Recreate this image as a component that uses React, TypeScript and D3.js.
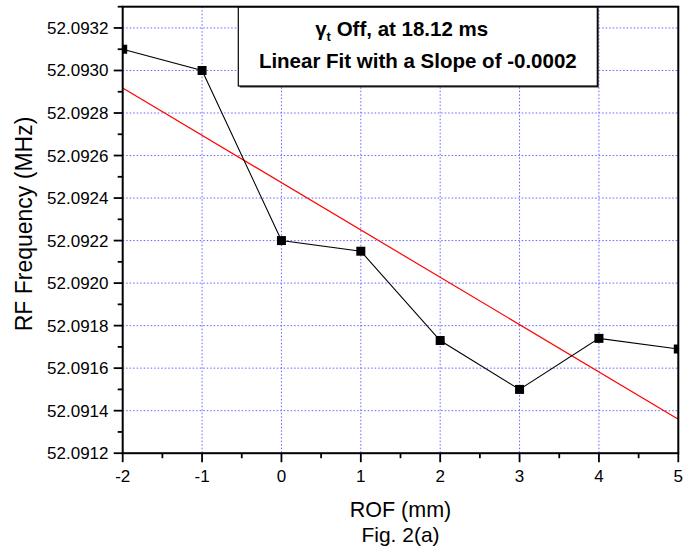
import React from "react";
import * as d3 from "d3";

const rofValues: number[] = [-2, -1, 0, 1, 2, 3, 4, 5];
const rfFrequency: number[] = [52.0931, 52.093, 52.0922, 52.09215, 52.09173, 52.0915, 52.09174, 52.09169];
const xTicks: number[] = [-2, -1, 0, 1, 2, 3, 4, 5];
const yTicks: number[] = [52.0912, 52.0914, 52.0916, 52.0918, 52.092, 52.0922, 52.0924, 52.0926, 52.0928, 52.093, 52.0932];
const annotationLine1 = "Off, at 18.12 ms";
const annotationLine2 = "Linear Fit with a Slope of -0.0002";

const W = 686;
const H = 557;
const L = 122.7, R = 678.3, T = 6.7, B = 453.2;
const FONT = "'Liberation Sans', Arial, Helvetica, sans-serif";

export default function App() {
  const x = d3.scaleLinear().domain([-2, 5]).range([L, R]);
  const y = d3.scaleLinear().domain([52.0912, 52.0933]).range([B, T]);
  const fmt = d3.format(".4f");

  // linear regression
  const n = rofValues.length;
  const mx = d3.mean(rofValues)!;
  const my = d3.mean(rfFrequency)!;
  let sxy = 0, sxx = 0;
  for (let i = 0; i < n; i++) {
    sxy += (rofValues[i] - mx) * (rfFrequency[i] - my);
    sxx += (rofValues[i] - mx) ** 2;
  }
  const slope = sxy / sxx;
  const icpt = my - slope * mx;
  const fitX = [-2, 5];
  const fitLine = d3.line<number>().x((d) => x(d)).y((d) => y(icpt + slope * d))(fitX)!;

  const dataLine = d3
    .line<number>()
    .x((_, i) => x(rofValues[i]))
    .y((d) => y(d))(rfFrequency)!;

  const xMinor: number[] = [];
  for (let i = 0; i < xTicks.length - 1; i++) xMinor.push((xTicks[i] + xTicks[i + 1]) / 2);
  const yMinor: number[] = [];
  for (let i = 0; i < yTicks.length - 1; i++) yMinor.push((yTicks[i] + yTicks[i + 1]) / 2);
  yMinor.push(52.0933);

  const gridColor = "#4a4aff";
  const boxL = 238.3, boxR = 597.3, boxT = T, boxB = 86;
  const boxC = (boxL + boxR) / 2;

  return (
    <svg width={W} height={H} style={{ position: "absolute", left: 0, top: 0 }} fontFamily={FONT}>
      <rect x={0} y={0} width={W} height={H} fill="#fff" />
      <defs>
        <clipPath id="plotClip">
          <rect x={L} y={T} width={R - L} height={B - T} />
        </clipPath>
      </defs>
      {/* grid */}
      <g stroke={gridColor} strokeWidth={1} strokeDasharray="1.5,2" opacity={0.85}>
        {xTicks.slice(1, -1).map((t) => (
          <line key={"gx" + t} x1={x(t)} x2={x(t)} y1={T} y2={B} />
        ))}
        {yTicks.slice(1).map((t) => (
          <line key={"gy" + t} x1={L} x2={R} y1={y(t)} y2={y(t)} />
        ))}
      </g>
      {/* data */}
      <g clipPath="url(#plotClip)">
        <path d={fitLine} fill="none" stroke="#ff0000" strokeWidth={1.2} />
        <path d={dataLine} fill="none" stroke="#000" strokeWidth={1.1} />
        {rfFrequency.map((v, i) => (
          <rect key={"p" + i} x={x(rofValues[i]) - 4.5} y={y(v) - 4.5} width={9} height={9} fill="#000" />
        ))}
      </g>
      {/* annotation box */}
      <rect x={boxL + 1.5} y={boxT + 1.5} width={boxR - boxL} height={boxB - boxT} fill="#333" />
      <rect x={boxL} y={boxT} width={boxR - boxL} height={boxB - boxT} fill="#fff" stroke="#000" strokeWidth={1.2} />
      <text x={401.7} y={36} textAnchor="middle" fontWeight="bold" fontSize={20.5}>
        <tspan>γ</tspan>
        <tspan fontSize={13} dy={5}>t</tspan>
        <tspan dy={-5}> {annotationLine1}</tspan>
      </text>
      <text x={boxC} y={68.3} textAnchor="middle" fontWeight="bold" fontSize={20.5}>
        {annotationLine2}
      </text>
      {/* frame */}
      <rect x={L} y={T} width={R - L} height={B - T} fill="none" stroke="#000" strokeWidth={2} />
      {/* ticks */}
      <g stroke="#000" strokeWidth={1.8}>
        {yTicks.map((t) => (
          <line key={"yt" + t} x1={L - 9} x2={L} y1={y(t)} y2={y(t)} />
        ))}
        {yMinor.map((t) => (
          <line key={"ym" + t} x1={L - 5} x2={L} y1={y(t)} y2={y(t)} />
        ))}
        {xTicks.map((t) => (
          <line key={"xt" + t} x1={x(t)} x2={x(t)} y1={B} y2={B + 9} />
        ))}
        {xMinor.map((t) => (
          <line key={"xm" + t} x1={x(t)} x2={x(t)} y1={B} y2={B + 5} />
        ))}
      </g>
      <g fontSize={17} fill="#000">
        {yTicks.map((t) => (
          <text key={"yl" + t} x={108.5} y={y(t) + 6} textAnchor="end">
            {fmt(t)}
          </text>
        ))}
        {xTicks.map((t) => (
          <text key={"xl" + t} x={x(t)} y={481.7} textAnchor="middle">
            {t}
          </text>
        ))}
      </g>
      <text x={(L + R) / 2} y={516.5} textAnchor="middle" fontSize={21.5}>
        ROF (mm)
      </text>
      <text x={(L + R) / 2} y={541.5} textAnchor="middle" fontSize={21}>
        Fig. 2(a)
      </text>
      <text transform={`translate(32,224) rotate(-90)`} textAnchor="middle" fontSize={23}>
        RF Frequency (MHz)
      </text>
    </svg>
  );
}
